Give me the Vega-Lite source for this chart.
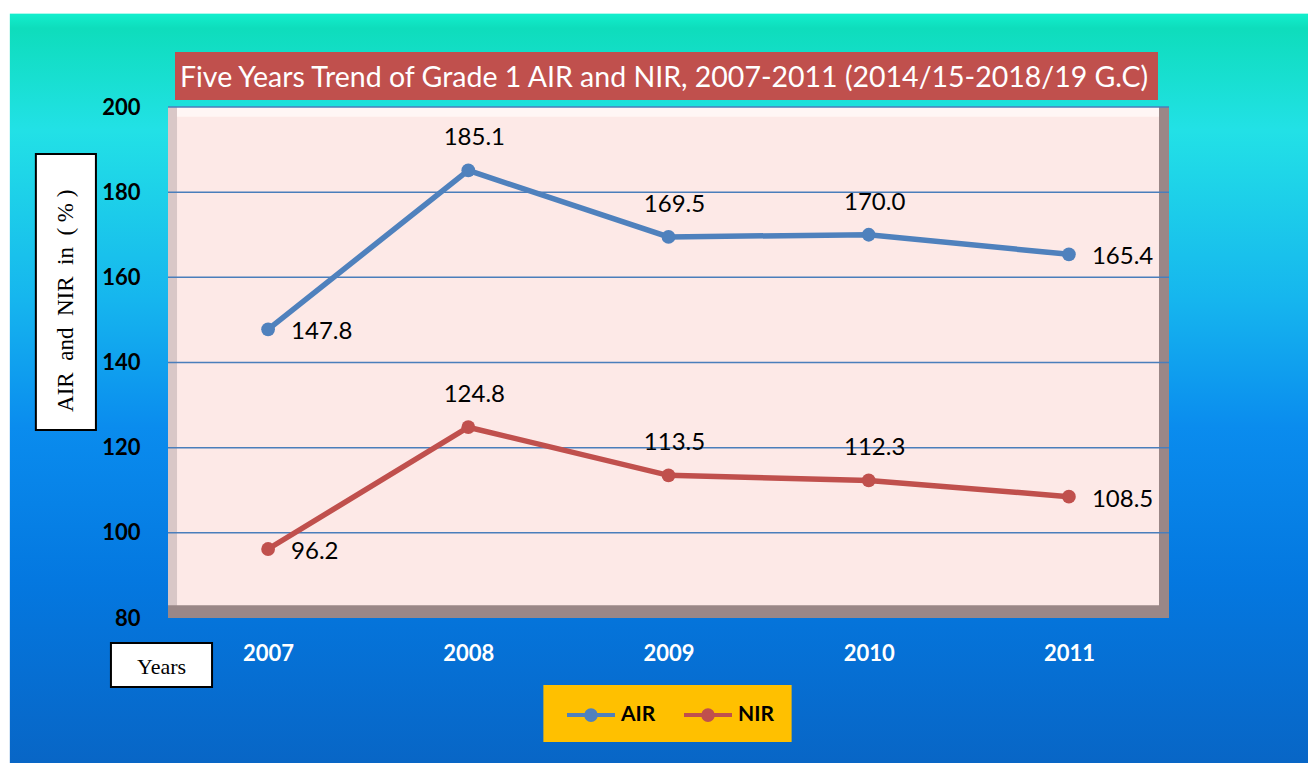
{
  "$schema": "https://vega.github.io/schema/vega-lite/v6.json",
  "width": 1308,
  "height": 763,
  "autosize": {"type": "none"},
  "padding": 0,
  "background": "white",
  "view": {
    "stroke": null,
    "fill": {
      "gradient": "linear", "x1": 0, "y1": 0, "x2": 0, "y2": 1,
      "stops": [
        {"offset": 0, "color": "#ffffff"},
        {"offset": 0.017, "color": "#ffffff"},
        {"offset": 0.019, "color": "#12EECC"},
        {"offset": 0.037, "color": "#0EDDBC"},
        {"offset": 0.17, "color": "#22E1E6"},
        {"offset": 0.39, "color": "#16B6EE"},
        {"offset": 0.56, "color": "#0A8CEE"},
        {"offset": 0.76, "color": "#0478E0"},
        {"offset": 1, "color": "#0866C6"}
      ]
    }
  },
  "config": {
    "axis": {"grid": false, "domain": false, "ticks": false, "labelFont": "Lato", "labelFontSize": 22, "labelFontWeight": "bold", "zindex": 1},
    "axisX": {"labelColor": "white", "labelPadding": 25},
    "axisY": {"labelColor": "black", "labelPadding": 28}
  },
  "title": {
    "text": "Five Years Trend of Grade 1 AIR and NIR, 2007-2011 (2014/15-2018/19 G.C)",
    "font": "Lato", "fontSize": 28.5, "fontWeight": "normal", "color": "white",
    "anchor": "middle", "offset": -116, "baseline": "alphabetic", "dx": 10
  },
  "datasets": {
    "series": [
      {"year": 2007, "series": "AIR", "value": 147.8},
      {"year": 2008, "series": "AIR", "value": 185.1},
      {"year": 2009, "series": "AIR", "value": 169.5},
      {"year": 2010, "series": "AIR", "value": 170.0},
      {"year": 2011, "series": "AIR", "value": 165.4},
      {"year": 2007, "series": "NIR", "value": 96.2},
      {"year": 2008, "series": "NIR", "value": 124.8},
      {"year": 2009, "series": "NIR", "value": 113.5},
      {"year": 2010, "series": "NIR", "value": 112.3},
      {"year": 2011, "series": "NIR", "value": 108.5}
    ],
    "grid": [{"g": 100}, {"g": 120}, {"g": 140}, {"g": 160}, {"g": 180}, {"g": 200}],
    "one": [{}]
  },
  "data": {"name": "series"},
  "layer": [
    {
      "data": {"name": "one"},
      "mark": {"type": "rect", "fill": "white"},
      "encoding": {
        "x": {"datum": 2005.66, "type": "quantitative", "scale": {"domain": [2006.5, 2011.5], "range": [168, 1169], "zero": false, "nice": false}},
        "x2": {"datum": 2005.71},
        "y": {"datum": 45.9, "type": "quantitative", "scale": {"domain": [80, 200], "range": [618, 107], "zero": false, "nice": false}},
        "y2": {"datum": 225.2}
      }
    },
    {
      "data": {"name": "one"},
      "mark": {"type": "rect", "fill": "#9A8787"},
      "encoding": {
        "x": {"datum": 2006.5, "type": "quantitative", "scale": {"domain": [2006.5, 2011.5], "range": [168, 1169], "zero": false, "nice": false}},
        "x2": {"datum": 2011.5},
        "y": {"datum": 80, "type": "quantitative", "scale": {"domain": [80, 200], "range": [618, 107], "zero": false, "nice": false}},
        "y2": {"datum": 200}
      }
    },
    {
      "data": {"name": "one"},
      "mark": {"type": "rect", "fill": "#D9C7C7"},
      "encoding": {
        "x": {"datum": 2006.5, "type": "quantitative", "scale": {"domain": [2006.5, 2011.5], "range": [168, 1169], "zero": false, "nice": false}},
        "x2": {"datum": 2006.545},
        "y": {"datum": 83, "type": "quantitative", "scale": {"domain": [80, 200], "range": [618, 107], "zero": false, "nice": false}},
        "y2": {"datum": 200}
      }
    },
    {
      "data": {"name": "one"},
      "mark": {"type": "rect", "fill": "#FDE9E7"},
      "encoding": {
        "x": {"datum": 2006.545, "type": "quantitative", "scale": {"domain": [2006.5, 2011.5], "range": [168, 1169], "zero": false, "nice": false}},
        "x2": {"datum": 2011.45},
        "y": {"datum": 83, "type": "quantitative", "scale": {"domain": [80, 200], "range": [618, 107], "zero": false, "nice": false}},
        "y2": {"datum": 200}
      }
    },
    {
      "data": {"name": "one"},
      "mark": {"type": "rect", "fill": "#FFF6F5"},
      "encoding": {
        "x": {"datum": 2006.545, "type": "quantitative", "scale": {"domain": [2006.5, 2011.5], "range": [168, 1169], "zero": false, "nice": false}},
        "x2": {"datum": 2011.45},
        "y": {"datum": 197.7, "type": "quantitative", "scale": {"domain": [80, 200], "range": [618, 107], "zero": false, "nice": false}},
        "y2": {"datum": 200}
      }
    },
    {
      "data": {"name": "grid"},
      "mark": {"type": "rule", "stroke": "#4A7EBB", "strokeWidth": 1.5},
      "encoding": {
        "x": {"datum": 2006.5, "type": "quantitative", "scale": {"domain": [2006.5, 2011.5], "range": [168, 1169], "zero": false, "nice": false}},
        "x2": {"datum": 2011.5},
        "y": {"field": "g", "type": "quantitative", "scale": {"domain": [80, 200], "range": [618, 107], "zero": false, "nice": false}}
      }
    },
    {
      "mark": {"type": "line", "strokeWidth": 5.5},
      "encoding": {
        "x": {
          "field": "year", "type": "quantitative",
          "scale": {"domain": [2006.5, 2011.5], "range": [168, 1169], "zero": false, "nice": false},
          "axis": {"values": [2007, 2008, 2009, 2010, 2011], "format": "d", "offset": -145, "title": null}
        },
        "y": {
          "field": "value", "type": "quantitative",
          "scale": {"domain": [80, 200], "range": [618, 107], "zero": false, "nice": false},
          "axis": {"values": [80, 100, 120, 140, 160, 180, 200], "offset": -168, "title": null}
        },
        "color": {
          "field": "series", "type": "nominal",
          "scale": {"domain": ["AIR", "NIR"], "range": ["#4F81BD", "#C0504D"]},
          "legend": {
            "orient": "none", "legendX": 565, "legendY": 689, "direction": "horizontal", "title": null,
            "padding": 0, "labelFont": "Lato", "labelFontSize": 21, "labelFontWeight": "bold", "labelColor": "black",
            "symbolType": "M-1,0L1,0M0.2,0A0.2,0.2,0,1,1,-0.2,0A0.2,0.2,0,1,1,0.2,0Z",
            "symbolSize": 2304, "symbolStrokeWidth": 4, "labelOffset": 4, "columnPadding": 20,
            "encode": {"symbols": {"update": {"fill": {"scale": "color", "field": "value"}, "stroke": {"scale": "color", "field": "value"}, "opacity": {"value": 1}}}}
          }
        }
      }
    },
    {
      "mark": {"type": "circle", "size": 190, "opacity": 1},
      "encoding": {
        "x": {"field": "year", "type": "quantitative", "scale": {"domain": [2006.5, 2011.5], "range": [168, 1169], "zero": false, "nice": false}},
        "y": {"field": "value", "type": "quantitative", "scale": {"domain": [80, 200], "range": [618, 107], "zero": false, "nice": false}},
        "color": {"field": "series", "type": "nominal", "legend": null, "scale": {"domain": ["AIR", "NIR"], "range": ["#4F81BD", "#C0504D"]}}
      }
    },
    {
      "transform": [{"filter": "datum.year == 2007 || datum.year == 2011"}],
      "mark": {"type": "text", "align": "left", "baseline": "middle", "dx": 23, "dy": 3, "font": "Lato", "fontSize": 24, "color": "#000000"},
      "encoding": {
        "x": {"field": "year", "type": "quantitative", "scale": {"domain": [2006.5, 2011.5], "range": [168, 1169], "zero": false, "nice": false}},
        "y": {"field": "value", "type": "quantitative", "scale": {"domain": [80, 200], "range": [618, 107], "zero": false, "nice": false}},
        "text": {"field": "value", "type": "quantitative", "format": ".1f"}
      }
    },
    {
      "transform": [{"filter": "datum.year != 2007 && datum.year != 2011"}],
      "mark": {"type": "text", "align": "center", "baseline": "middle", "dy": -32, "dx": 6, "font": "Lato", "fontSize": 24, "color": "#000000"},
      "encoding": {
        "x": {"field": "year", "type": "quantitative", "scale": {"domain": [2006.5, 2011.5], "range": [168, 1169], "zero": false, "nice": false}},
        "y": {"field": "value", "type": "quantitative", "scale": {"domain": [80, 200], "range": [618, 107], "zero": false, "nice": false}},
        "text": {"field": "value", "type": "quantitative", "format": ".1f"}
      }
    },
    {
      "data": {"name": "one"},
      "mark": {"type": "rect", "fill": "#C0504D"},
      "encoding": {
        "x": {"datum": 2006.535, "type": "quantitative", "scale": {"domain": [2006.5, 2011.5], "range": [168, 1169], "zero": false, "nice": false}},
        "x2": {"datum": 2011.445},
        "y": {"datum": 212.92, "type": "quantitative", "scale": {"domain": [80, 200], "range": [618, 107], "zero": false, "nice": false}},
        "y2": {"datum": 201.64}
      }
    },
    {
      "data": {"name": "one"},
      "mark": {"type": "rect", "fill": "white", "stroke": "black", "strokeWidth": 2},
      "encoding": {
        "x": {"datum": 2005.84, "type": "quantitative", "scale": {"domain": [2006.5, 2011.5], "range": [168, 1169], "zero": false, "nice": false}},
        "x2": {"datum": 2006.14},
        "y": {"datum": 188.96, "type": "quantitative", "scale": {"domain": [80, 200], "range": [618, 107], "zero": false, "nice": false}},
        "y2": {"datum": 124.15}
      }
    },
    {
      "data": {"name": "one"},
      "mark": {"type": "text", "text": "AIR\u00a0 and\u00a0 NIR\u00a0 in\u00a0 (\u00a0%\u00a0)", "angle": 270, "align": "center", "baseline": "middle", "font": "Liberation Serif", "fontSize": 23, "color": "black"},
      "encoding": {
        "x": {"datum": 2005.99, "type": "quantitative", "scale": {"domain": [2006.5, 2011.5], "range": [168, 1169], "zero": false, "nice": false}},
        "y": {"datum": 154.5, "type": "quantitative", "scale": {"domain": [80, 200], "range": [618, 107], "zero": false, "nice": false}}
      }
    },
    {
      "data": {"name": "one"},
      "mark": {"type": "rect", "fill": "white", "stroke": "black", "strokeWidth": 2},
      "encoding": {
        "x": {"datum": 2006.215, "type": "quantitative", "scale": {"domain": [2006.5, 2011.5], "range": [168, 1169], "zero": false, "nice": false}},
        "x2": {"datum": 2006.72},
        "y": {"datum": 74.13, "type": "quantitative", "scale": {"domain": [80, 200], "range": [618, 107], "zero": false, "nice": false}},
        "y2": {"datum": 63.8}
      }
    },
    {
      "data": {"name": "one"},
      "mark": {"type": "text", "text": "Years", "align": "center", "baseline": "middle", "font": "Liberation Serif", "fontSize": 22, "color": "black"},
      "encoding": {
        "x": {"datum": 2006.4675, "type": "quantitative", "scale": {"domain": [2006.5, 2011.5], "range": [168, 1169], "zero": false, "nice": false}},
        "y": {"datum": 68.6, "type": "quantitative", "scale": {"domain": [80, 200], "range": [618, 107], "zero": false, "nice": false}}
      }
    },
    {
      "data": {"name": "one"},
      "mark": {"type": "rect", "fill": "#FFC000"},
      "encoding": {
        "x": {"datum": 2008.375, "type": "quantitative", "scale": {"domain": [2006.5, 2011.5], "range": [168, 1169], "zero": false, "nice": false}},
        "x2": {"datum": 2009.615},
        "y": {"datum": 64.27, "type": "quantitative", "scale": {"domain": [80, 200], "range": [618, 107], "zero": false, "nice": false}},
        "y2": {"datum": 50.88}
      }
    }
  ]
}
